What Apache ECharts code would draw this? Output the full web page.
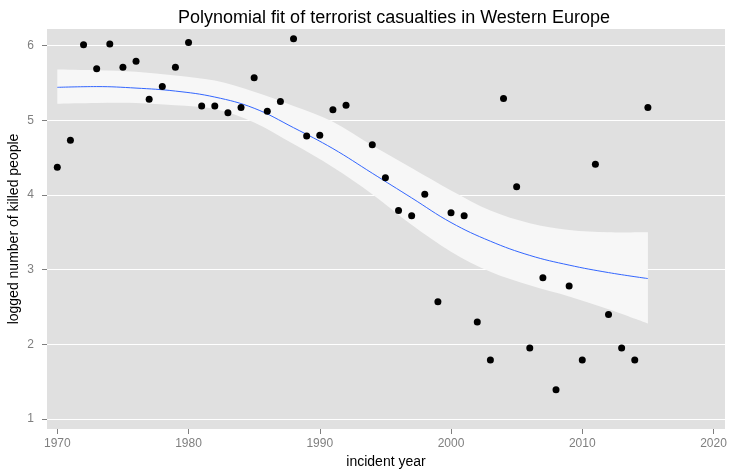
<!DOCTYPE html>
<html>
<head>
<meta charset="utf-8">
<script src="https://cdn.jsdelivr.net/npm/echarts@6/dist/echarts.min.js"></script>
<style>
  html, body { margin: 0; padding: 0; background: #ffffff; }
  #chart { width: 735px; height: 470px; }
</style>
</head>
<body>
<div id="chart"></div>
<script>
// Yearly casualties (log of people killed), Western Europe; 1993 has no record
const years = [1970, 1971, 1972, 1973, 1974, 1975, 1976, 1977, 1978, 1979,
               1980, 1981, 1982, 1983, 1984, 1985, 1986, 1987, 1988, 1989,
               1990, 1991, 1992, 1994, 1995, 1996, 1997, 1998, 1999,
               2000, 2001, 2002, 2003, 2004, 2005, 2006, 2007, 2008, 2009,
               2010, 2011, 2012, 2013, 2014, 2015];
const killedLog = [4.37, 4.73, 6.01, 5.69, 6.02, 5.71, 5.79, 5.28, 5.45, 5.71,
                   6.04, 5.19, 5.19, 5.10, 5.17, 5.57, 5.12, 5.25, 6.09, 4.79,
                   4.80, 5.14, 5.20, 4.67, 4.23, 3.79, 3.72, 4.01, 2.57,
                   3.76, 3.72, 2.30, 1.79, 5.29, 4.11, 1.95, 2.89, 1.39, 2.78,
                   1.79, 4.41, 2.40, 1.95, 1.79, 5.17];

// Fitted polynomial trend with its confidence band
const fitYears = [1970, 1973, 1976, 1979, 1982, 1985, 1988, 1991,
                  1994, 1997, 2000, 2003, 2006, 2009, 2012, 2015];
const fitValues = [5.44, 5.45, 5.43, 5.39, 5.31, 5.16, 4.90, 4.62,
                   4.29, 3.96, 3.63, 3.38, 3.19, 3.06, 2.96, 2.88];
const fitLower = [5.22, 5.23, 5.23, 5.20, 5.15, 4.97, 4.68, 4.37,
                  4.01, 3.60, 3.24, 2.97, 2.79, 2.64, 2.47, 2.28];
const fitUpper = [5.68, 5.67, 5.65, 5.60, 5.53, 5.38, 5.19, 4.98,
                  4.66, 4.36, 4.06, 3.79, 3.62, 3.53, 3.50, 3.50];

const xTicks = [1970, 1980, 1990, 2000, 2010, 2020];
const yTicks = [1, 2, 3, 4, 5, 6];

const FONT = '"Liberation Sans", Arial, sans-serif';
const GREY = '#7f7f7f';

// Catmull-Rom spline through pixel points, as cubic Bezier path commands
function splineSegments(pts) {
  let d = '';
  for (let i = 0; i < pts.length - 1; i++) {
    const p0 = pts[Math.max(i - 1, 0)];
    const p1 = pts[i];
    const p2 = pts[i + 1];
    const p3 = pts[Math.min(i + 2, pts.length - 1)];
    const c1x = p1[0] + (p2[0] - p0[0]) / 6, c1y = p1[1] + (p2[1] - p0[1]) / 6;
    const c2x = p2[0] - (p3[0] - p1[0]) / 6, c2y = p2[1] - (p3[1] - p1[1]) / 6;
    d += ' C' + c1x + ' ' + c1y + ' ' + c2x + ' ' + c2y + ' ' + p2[0] + ' ' + p2[1];
  }
  return d;
}

function bandPath(upper, lower) {
  const lowRev = lower.slice().reverse();
  return 'M' + upper[0][0] + ' ' + upper[0][1] + splineSegments(upper) +
         ' L' + lowRev[0][0] + ' ' + lowRev[0][1] + splineSegments(lowRev) + ' Z';
}

const chart = echarts.init(document.getElementById('chart'), null, { renderer: 'canvas' });

chart.setOption({
  animation: false,
  backgroundColor: '#ffffff',
  title: {
    text: 'Polynomial fit of terrorist casualties in Western Europe',
    left: 389,
    textAlign: 'center',
    top: 4,
    textStyle: { color: '#000000', fontSize: 18, fontWeight: 'normal', fontFamily: FONT }
  },
  grid: {
    left: 47, right: 10, top: 29, bottom: 41,
    outerBoundsMode: 'none',
    containLabel: false,
    show: true, backgroundColor: '#e0e0e0', borderWidth: 0
  },
  xAxis: {
    type: 'value',
    min: 1969.215, max: 2020.876,
    name: 'incident year',
    nameLocation: 'middle',
    nameGap: 26,
    nameMoveOverlap: false,
    nameTextStyle: { color: '#000000', fontSize: 14, fontFamily: FONT },
    axisLine: { show: false },
    axisTick: { show: true, length: 5, customValues: xTicks, lineStyle: { color: GREY, width: 1 } },
    axisLabel: {
      customValues: xTicks, color: GREY, fontSize: 12, fontFamily: FONT, margin: 9,
      formatter: (v) => String(v)
    },
    splitLine: { show: false }
  },
  yAxis: {
    type: 'value',
    min: 0.866, max: 6.221,
    name: 'logged number of killed people',
    nameLocation: 'middle',
    nameGap: 26,
    nameMoveOverlap: false,
    nameTextStyle: { color: '#000000', fontSize: 14, fontFamily: FONT },
    axisLine: { show: false },
    axisTick: { show: true, length: 5, customValues: yTicks, lineStyle: { color: GREY, width: 1 } },
    axisLabel: { customValues: yTicks, color: GREY, fontSize: 12, fontFamily: FONT, margin: 13 },
    splitLine: { show: true, lineStyle: { color: '#ffffff', width: 1 } }
  },
  series: [
    {
      type: 'custom',
      name: 'band',
      data: [[1990, 4]],
      silent: true,
      z: 1,
      renderItem: (params, api) => {
        const upper = fitYears.map((y, i) => api.coord([y, fitUpper[i]]));
        const lower = fitYears.map((y, i) => api.coord([y, fitLower[i]]));
        return {
          type: 'path',
          shape: { pathData: bandPath(upper, lower) },
          style: { fill: '#f7f7f7', stroke: null }
        };
      }
    },
    {
      type: 'line',
      name: 'fit',
      data: fitYears.map((y, i) => [y, fitValues[i]]),
      smooth: 0.4,
      symbol: 'none',
      silent: true,
      lineStyle: { color: '#3366ff', width: 1 },
      z: 2
    },
    {
      type: 'scatter',
      name: 'killed',
      data: years.map((y, i) => [y, killedLog[i]]),
      symbol: 'circle',
      symbolSize: 7,
      itemStyle: { color: '#000000', opacity: 1 },
      z: 3
    }
  ]
});
</script>
</body>
</html>
